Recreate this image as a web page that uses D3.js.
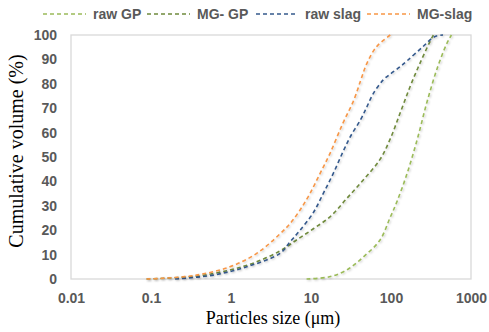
<!DOCTYPE html>
<html><head><meta charset="utf-8">
<script src="https://cdn.jsdelivr.net/npm/d3@7"></script>
<style>body{margin:0;background:#fff}</style>
</head><body><svg id="c" width="489" height="332"></svg>
<script>
const seriesNames = ["raw GP", "MG- GP", "raw slag", "MG-slag"];
const seriesColors = ["#9BBB59", "#6F8A3C", "#34598C", "#F79646"];
const rawGP = [[8.8,0],[17,0.9],[28,3.7],[45,9],[73,16],[97,25],[118,31.5],[158,43],[212,57],[279,72],[375,86],[500,96.6],[570,100]];
const mgGP = [[0.088,0],[0.37,1.2],[0.97,3.7],[2,6.8],[4.1,11.5],[6.6,16],[10.6,20.5],[17.3,25.5],[28,33],[45,40.6],[73,49],[98,57.5],[130,68],[174,79],[230,88.4],[307,97.3],[338,100]];
const rawSlag = [[0.2,0],[0.6,1.6],[1.57,5],[4.1,10.5],[5.5,15.3],[7.3,20],[10.6,27],[14.2,35],[19,43.3],[25,52],[31,58.3],[42,65.5],[50,70.6],[60,76],[80,81.6],[98,84],[130,87],[160,89.5],[250,95.2],[350,99.3],[447,100]];
const mgSlag = [[0.088,0],[0.14,0.3],[0.37,1.6],[0.97,5],[2.1,10.5],[4.1,18.5],[5.5,22.8],[7.3,28.3],[9.7,35],[13,43.3],[17.3,51.5],[25,63.8],[34,73],[42,81.6],[50,88.4],[66,95.2],[98,100]];
const xTicks = [0.01, 0.1, 1, 10, 100, 1000];
const xTickLabels = ["0.01", "0.1", "1", "10", "100", "1000"];
const yTicks = [0,10,20,30,40,50,60,70,80,90,100];

const allSeries = [rawGP, mgGP, rawSlag, mgSlag];
const svg = d3.select("#c");
const L = 71, R = 471, T = 35, B = 279;
const x = d3.scaleLog().domain([0.01, 1000]).range([L, R]);
const y = d3.scaleLinear().domain([0, 100]).range([B, T]);

const defs = svg.append("defs");
const f = defs.append("filter").attr("id","sh").attr("x","-20%").attr("y","-20%").attr("width","140%").attr("height","140%");
f.append("feDropShadow").attr("dx",1).attr("dy",1).attr("stdDeviation",1).attr("flood-color","#000").attr("flood-opacity",0.22);

svg.append("rect").attr("x", L).attr("y", T).attr("width", R - L).attr("height", B - T)
  .attr("fill", "none").attr("stroke", "#D9D9D9").attr("stroke-width", 1.3);

const tickFont = "Liberation Sans, Arial, sans-serif";
const xAxis = d3.axisBottom(x).tickValues(xTicks).tickFormat((d,i) => xTickLabels[i]).tickSize(0).tickPadding(14);
const gx = svg.append("g").attr("transform", `translate(0,${B})`).call(xAxis);
gx.select(".domain").remove();
gx.selectAll("text").attr("fill", "#595959").attr("font-family", tickFont).attr("font-size", 14).attr("font-weight", "bold");

const yAxis = d3.axisLeft(y).tickValues(yTicks).tickSize(0).tickPadding(14);
const gy = svg.append("g").attr("transform", `translate(${L},0)`).call(yAxis);
gy.select(".domain").remove();
gy.selectAll("text").attr("fill", "#595959").attr("font-family", tickFont).attr("font-size", 14).attr("font-weight", "bold");

const line = d3.line().x(d => x(d[0])).y(d => y(d[1])).curve(d3.curveCatmullRom.alpha(0.5));
allSeries.forEach((s, i) => {
  svg.append("path").datum(s).attr("d", line).attr("fill", "none")
    .attr("stroke", seriesColors[i]).attr("stroke-width", 1.6)
    .attr("stroke-dasharray", "4,3").attr("filter", "url(#sh)");
});

// legend
const legX = [43, 147, 256, 367];
const legW = [43, 43, 42, 43];
seriesNames.forEach((n, i) => {
  svg.append("line").attr("x1", legX[i]).attr("x2", legX[i] + legW[i]).attr("y1", 14).attr("y2", 14)
    .attr("stroke", seriesColors[i]).attr("stroke-width", 1.6).attr("stroke-dasharray", "4,3");
  svg.append("text").attr("x", legX[i] + legW[i] + 7).attr("y", 14).attr("dy", "0.35em")
    .attr("fill", "#595959").attr("font-family", tickFont).attr("font-size", 14).attr("font-weight", "bold").text(n);
});

svg.append("text").attr("x", 273).attr("y", 324).attr("text-anchor", "middle")
  .attr("font-family", "Liberation Serif, Times New Roman, serif").attr("font-size", 18).attr("fill", "#000")
  .text("Particles size (\u03bcm)");
svg.append("text").attr("transform", "translate(23,151) rotate(-90)").attr("text-anchor", "middle")
  .attr("font-family", "Liberation Serif, Times New Roman, serif").attr("font-size", 20).attr("fill", "#000")
  .text("Cumulative volume (%)");
</script></body></html>
